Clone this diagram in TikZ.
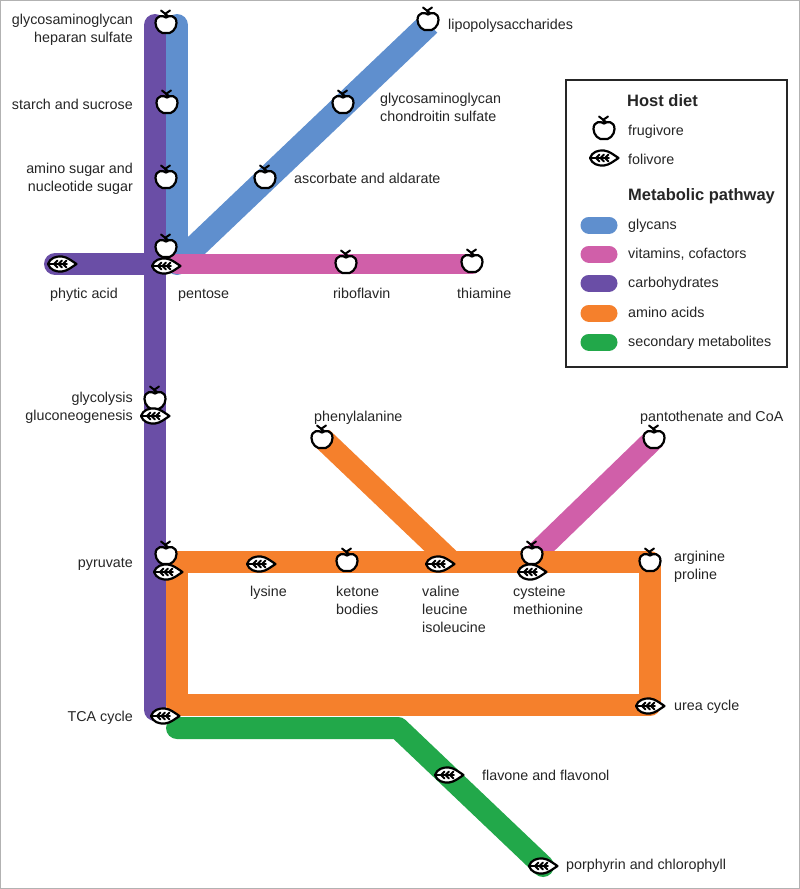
\documentclass[tikz,border=0pt]{standalone}
\usepackage{fontspec}
\setmainfont{Liberation Sans}
\usetikzlibrary{calc, positioning}
\definecolor{metblue}{HTML}{5F8FCE}
\definecolor{metpink}{HTML}{D05FA9}
\definecolor{metpurple}{HTML}{6A4EA6}
\definecolor{metorange}{HTML}{F5802C}
\definecolor{metgreen}{HTML}{22A84A}
\definecolor{mettext}{HTML}{262626}
\tikzset{
  met/line/.style={line width=22pt, line cap=round, line join=round},
  met/diag/.style={line width=22pt, line cap=butt},
  met/label/.style={font=\fontsize{14.3}{18}\selectfont, text=mettext, inner sep=0pt, yshift=-2pt, align=left, anchor=west,
    execute at begin node={\rule{0pt}{10pt}}, execute at end node={\rule[-3pt]{0pt}{3pt}}},
  met/labelr/.style={met/label, align=right, anchor=east},
  met/labelc/.style={met/label, align=left, anchor=north west},
  met/title/.style={font=\fontsize{16.5}{18}\selectfont\bfseries, text=black!85, inner sep=0pt, yshift=-2pt, text height=11pt, text depth=3pt, anchor=west},
  met/swatch/.style={line width=17pt, line cap=round},
  met/frame/.style={draw=black!85, line width=2pt, fill=white},
  met/icon/.style={line width=2.2pt, draw=black, fill=white, line join=round, line cap=round},
  met/apple/.pic={
    \draw[met/icon] (0,-6.5) .. controls (-3,-9) and (-10.5,-9) .. (-10.5,-1)
      .. controls (-10.5,5) and (-5,10.5) .. (0,9)
      .. controls (5,10.5) and (10.5,5) .. (10.5,-1)
      .. controls (10.5,-9) and (3,-9) .. (0,-6.5) -- cycle;
    \draw[line width=2pt, line cap=round] (0,-7) -- (-1,-11) (-5,-13.5) -- (2,-8) (-1,-10) -- (4,-13.5);
  },
  met/leaf/.pic={
    \draw[met/icon] (-14,0) .. controls (-12,-6) and (-6,-8) .. (0,-7.5)
      .. controls (5,-7) and (10,-3) .. (14.5,0)
      .. controls (10,3) and (5,7) .. (0,7.5)
      .. controls (-6,8) and (-12,6) .. (-14,0) -- cycle;
    \draw[line width=1.9pt, line cap=round, line join=round]
      (-13,0) -- (5,0)
      (-4.5,-3.5) -- (-8,0) -- (-4.5,3.5)
      (0,-3.5) -- (-3.5,0) -- (0,3.5)
      (4.5,-3.5) -- (1,0) -- (4.5,3.5);
  },
}

\begin{document}
\begin{tikzpicture}[x=1pt, y=-1pt]
  \useasboundingbox (0,0) rectangle (800,889);
  \draw[black!30, line width=1.5pt, fill=white] (0,0) rectangle (800,889);

  % Stations
  \coordinate (hep) at (155,25);
  \coordinate (hepb) at (177,25);
  \coordinate (pentb) at (177,264);
  \coordinate (pent) at (155,264);
  \coordinate (phytic) at (55,264);
  \coordinate (thia) at (472,264);
  \coordinate (lipo) at (429,24);
  \coordinate (tca) at (155,710);
  \coordinate (pyrr) at (177,562);
  \coordinate (argi) at (650,562);
  \coordinate (urea) at (650,705);
  \coordinate (tcar) at (177,705);
  \coordinate (phen) at (322,438);
  \coordinate (vali) at (452,562);
  \coordinate (pant) at (655,438);
  \coordinate (cyst) at (527,562);
  \coordinate (grna) at (177,728);
  \coordinate (grnb) at (398,728);
  \coordinate (porp) at (543,866);

  % Lines
  \draw[met/line, metblue] (hepb) -- (pentb);
  \draw[met/diag, line width=24pt, metblue] (pentb) -- (lipo);
  \draw[met/line, metpurple] (hep) -- (tca);
  \draw[met/line, metpurple] (phytic) -- (pent);
  \draw[met/line, line width=20pt, metpink] (pentb) -- (thia);
  \draw[met/diag, metpink] (cyst) -- (pant);
  \draw[met/line, metgreen] (grna) -- (grnb) -- (porp);
  \draw[met/diag, metorange] (phen) -- (vali);
  \draw[met/line, metorange] (pyrr) -- (argi) -- (urea) -- (tcar) -- cycle;

  % Icons
  \pic at (166,24) {met/apple};
  \pic at (167,104) {met/apple};
  \pic at (166,179) {met/apple};
  \pic at (166,248) {met/apple};
  \pic at (343,104) {met/apple};
  \pic at (265,179) {met/apple};
  \pic at (346,264) {met/apple};
  \pic at (472,263) {met/apple};
  \pic at (428,21) {met/apple};
  \pic at (155,400) {met/apple};
  \pic at (166,555) {met/apple};
  \pic at (347,562) {met/apple};
  \pic at (532,555) {met/apple};
  \pic at (650,562) {met/apple};
  \pic at (322,439) {met/apple};
  \pic at (654,439) {met/apple};
  \pic at (166,266) {met/leaf};
  \pic at (62,264) {met/leaf};
  \pic at (155,416) {met/leaf};
  \pic at (168,572) {met/leaf};
  \pic at (261,564) {met/leaf};
  \pic at (440,564) {met/leaf};
  \pic at (532,572) {met/leaf};
  \pic at (650,706) {met/leaf};
  \pic at (165,716) {met/leaf};
  \pic at (449,775) {met/leaf};
  \pic at (543,866) {met/leaf};

  % Labels on the left
  \node[met/labelr] (lhep) at (133,28) {glycosaminoglycan\\heparan sulfate};
  \node[met/labelr] (lstar) at (133,104) {starch and sucrose};
  \node[met/labelr] (lamin) at (133,177) {amino sugar and\\nucleotide sugar};
  \node[met/labelr] (lglyc) at (133,406) {glycolysis\\gluconeogenesis};
  \node[met/labelr] (lpyr) at (133,562) {pyruvate};
  \node[met/labelr] (ltca) at (133,716) {TCA cycle};

  % Labels on the right
  \node[met/label] (llipo) at (448,24) {lipopolysaccharides};
  \node[met/label] (lchon) at (380,107) {glycosaminoglycan\\chondroitin sulfate};
  \node[met/label] (lasco) at (294,178) {ascorbate and aldarate};
  \node[met/label] (lphen) at (314,416) {phenylalanine};
  \node[met/label] (lpant) at (640,416) {pantothenate and CoA};
  \node[met/label] (largi) at (674,564.5) {arginine\\proline};
  \node[met/label] (lurea) at (674,705) {urea cycle};
  \node[met/label] (lflav) at (482,775) {flavone and flavonol};
  \node[met/label] (lporp) at (566,864) {porphyrin and chlorophyll};

  % Labels below the lines
  \node[met/label] (lphyt) at (50,293) {phytic acid};
  \node[met/label] (lpent) at (178,293) {pentose};
  \node[met/label] (lribo) at (333,293) {riboflavin};
  \node[met/label] (lthia) at (457,293) {thiamine};
  \node[met/labelc] (llys) at (250,584) {lysine};
  \node[met/labelc] (lket) at (336,584) {ketone\\bodies};
  \node[met/labelc] (lval) at (422,584) {valine\\leucine\\isoleucine};
  \node[met/labelc] (lcys) at (513,584) {cysteine\\methionine};

  % Legend
  \node[met/frame, minimum width=221pt, minimum height=287pt, anchor=north west] (legend) at (565,79) {};
  \node[met/title] (thost) at (627,100) {Host diet};
  \pic at (604,130) {met/apple};
  \node[met/label] (lfrug) at (628,130) {frugivore};
  \pic at (604,158) {met/leaf};
  \node[met/label] (lfoli) at (628,159) {folivore};
  \node[met/title] (tpath) at (628,194) {Metabolic pathway};
  \foreach \nm/\col/\yy/\txt in {gly/metblue/225/glycans, vit/metpink/254/{vitamins, cofactors}, car/metpurple/283/carbohydrates, ami/metorange/313/amino acids, sec/metgreen/342/secondary metabolites} {
    \coordinate (s\nm a) at (589,\yy);
    \coordinate (s\nm b) at (609,\yy);
    \draw[met/swatch, \col] (s\nm a) -- (s\nm b);
    \node[met/label] (l\nm) at (628,\yy-1) {\txt};
  }
\end{tikzpicture}
\end{document}
